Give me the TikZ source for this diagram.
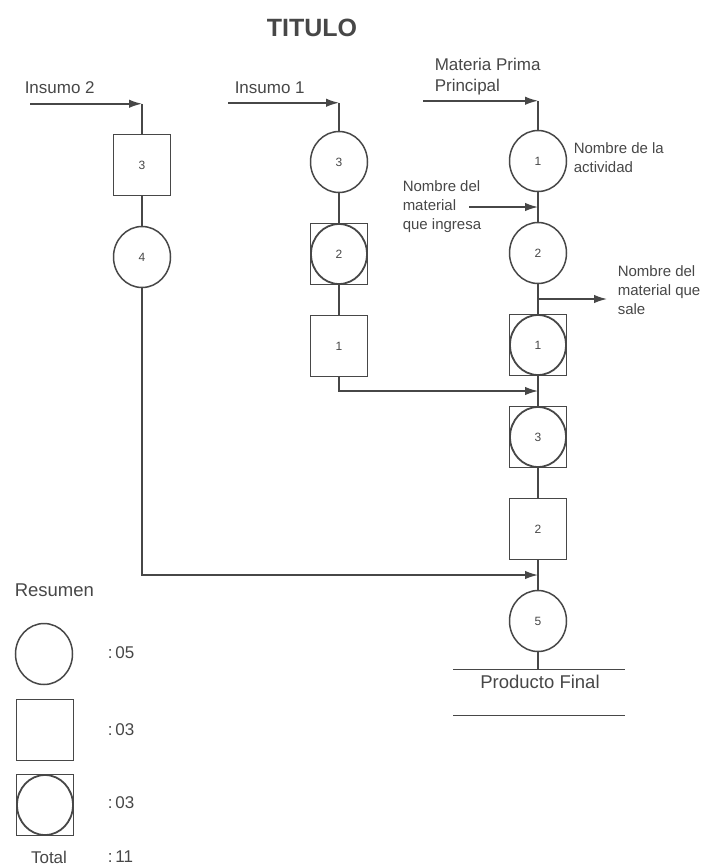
\documentclass[tikz,border=0pt]{standalone}
\usepackage{fontspec}
\setmainfont{Liberation Sans}
\usetikzlibrary{arrows.meta, positioning, shapes.geometric, calc}

\begin{document}
\begin{tikzpicture}[
  x=1pt, y=1pt,
  >={Latex[length=13pt, width=8.5pt]}, line width=1.5pt, color=black!72,
  oper/.style = {draw, ellipse, minimum width=57pt, minimum height=61pt, inner sep=0pt, font=\fontsize{12}{12}\selectfont},
  insp/.style = {draw, rectangle, minimum width=57pt, minimum height=61pt, inner sep=0pt, font=\fontsize{12}{12}\selectfont},
  comb/.style = {insp, path picture={\draw[line width=1.8pt] (path picture bounding box.center) ellipse (28pt and 30pt);}},
  note/.style = {inner sep=0pt, align=left, font=\fontsize{15}{19}\selectfont},
  inlbl/.style = {inner sep=0pt, align=left, font=\fontsize{17}{21}\selectfont},
  node distance=29.5pt,
]
  \useasboundingbox (0,0) rectangle (702,-868);

  \node[font=\bfseries\fontsize{25}{25}\selectfont] (title) at (312,-28) {TITULO};

  % main column
  \node[oper]              (op1)   at (538,-161) {1};
  \node[oper, below=of op1]   (op2)   {2};
  \node[comb, below=of op2]   (comb1) {1};
  \node[comb, below=of comb1] (comb3) {3};
  \node[insp, below=of comb3] (insp2) {2};
  \node[oper, below=of insp2] (op5)   {5};

  % insumo 1 column
  \node[oper]              (op3)   at (339,-162) {3};
  \node[comb, below=of op3]   (comb2) {2};
  \node[insp, below=of comb2] (insp1) {1};

  % insumo 2 column
  \node[insp]              (insp3) at (142,-165) {3};
  \node[oper, below=of insp3] (op4)   {4};

  \foreach \a/\b in {op1/op2, op2/comb1, comb1/comb3, comb3/insp2, insp2/op5,
                     op3/comb2, comb2/insp1, insp3/op4}
    \draw (\a) -- (\b);

  % inputs at the top
  \coordinate (mpc) at ($(op1.north)+(0,29)$);
  \coordinate (mps) at ($(mpc)+(-115,0)$);
  \coordinate (i1c) at ($(op3.north)+(0,28)$);
  \coordinate (i1s) at ($(i1c)+(-111,0)$);
  \coordinate (i2c) at ($(insp3.north)+(0,30)$);
  \coordinate (i2s) at ($(i2c)+(-112,0)$);
  \draw[->] (mps) -- (mpc);
  \draw (mpc) -- (op1);
  \draw[->] (i1s) -- (i1c);
  \draw (i1c) -- (op3);
  \draw[->] (i2s) -- (i2c);
  \draw (i2c) -- (insp3);

  \node[inlbl, anchor=west] (mplbl) at (434,-77) {Materia Prima\\Principal};
  \node[inlbl, anchor=west] (i1lbl) at (234,-88) {Insumo 1};
  \node[inlbl, anchor=west] (i2lbl) at (24,-88)  {Insumo 2};

  % notes on the main column
  \node[note, anchor=west] (actlbl) at (573,-158) {Nombre de la\\actividad};
  \node[note, anchor=west] (inglbl) at (402,-207) {Nombre del\\material\\que ingresa};
  \node[note, anchor=west] (sallbl) at (617,-290) {Nombre del\\material que\\sale};
  \coordinate (ing)  at ($(op1.south)!0.5!(op2.north)$);
  \coordinate (ings) at ($(ing)+(-69,0)$);
  \draw[->] (ings) -- (ing);
  \coordinate (sal)  at ($(op2.south)!0.5!(comb1.north)$);
  \coordinate (sale) at ($(sal)+(69,0)$);
  \draw[->] (sal) -- (sale);

  % joins into the main column
  \coordinate (j1) at ($(comb1.south)!0.5!(comb3.north)$);
  \coordinate (j2) at ($(insp2.south)!0.5!(op5.north)$);
  \draw[->] (insp1.south) |- (j1);
  \draw[->] (op4.south) |- (j2);

  % final product
  \coordinate (pf)  at ($(op5.south)+(0,-17)$);
  \coordinate (pfl) at (453,0 |- pf);
  \coordinate (pfr) at (625,0 |- pf);
  \draw (op5) -- (pf);
  \draw (pfl) -- (pfr);
  \node[font=\fontsize{18.5}{18.5}\selectfont] (pflbl) at (540,-682) {Producto Final};
  \coordinate (pbl) at ($(pfl)+(0,-46)$);
  \coordinate (pbr) at ($(pfr)+(0,-46)$);
  \draw (pbl) -- (pbr);

  % summary
  \node[font=\fontsize{18.5}{18.5}\selectfont, anchor=west, inner sep=0pt] (res) at (14,-590) {Resumen};
  \node[oper] (lgop)   at (44,-654) {};
  \node[insp] (lginsp) at (45,-730) {};
  \node[comb] (lgcomb) at (45,-805) {};
  \node[inlbl, anchor=west] (nop)   at (107,-653) {:\,05};
  \node[inlbl, anchor=west] (ninsp) at (107,-730) {:\,03};
  \node[inlbl, anchor=west] (ncomb) at (107,-803) {:\,03};
  \node[inlbl] (tot) at (49,-857) {Total};
  \node[inlbl, anchor=west] (ntot) at (107,-857) {:\,11};
\end{tikzpicture}
\end{document}
